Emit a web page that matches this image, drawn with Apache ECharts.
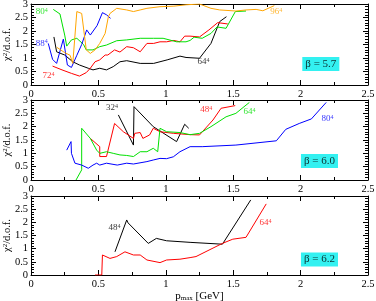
<!DOCTYPE html>
<html><head><meta charset="utf-8">
<script src="https://cdn.jsdelivr.net/npm/echarts@6/dist/echarts.min.js"></script>
<style>html,body{margin:0;padding:0;background:#fff}#c{width:376px;height:301px}</style>
</head><body><div id="c"></div>
<script>
// ---- data (x = p_max [GeV], y = chi^2/d.o.f.) ----
// panel beta = 5.7
const b57_64 = [[0.17,1.78],[0.19,1.23],[0.25,1.11],[0.31,0.86],[0.36,0.74],[0.425,0.62],[0.46,0.56],[0.51,0.62],[0.56,0.56],[0.61,0.68],[0.66,0.86],[0.71,0.9],[0.81,0.8],[0.91,0.8],[1.01,0.93],[1.105,1.07],[1.15,1.02],[1.25,0.99],[1.335,1.54],[1.40,2.35],[1.45,2.53]];
const b57_72 = [[0.16,0.70],[0.23,0.56],[0.30,0.43],[0.36,0.33],[0.41,0.46],[0.44,0.62],[0.475,0.86],[0.51,0.93],[0.55,1.11],[0.57,1.11],[0.62,1.3],[0.66,1.22],[0.71,1.42],[0.76,1.38],[0.81,1.23],[0.86,1.54],[0.91,1.54],[0.957,1.6],[1.006,1.6],[1.06,1.65],[1.105,1.6],[1.14,1.81],[1.18,1.81],[1.25,1.78],[1.32,2.04],[1.385,2.31],[1.46,2.26]];
const b57_80 = [[0.165,2.8],[0.215,2.63],[0.25,1.85],[0.265,1.44],[0.30,1.67],[0.34,1.73],[0.39,1.5],[0.41,1.3],[0.46,1.3],[0.51,1.42],[0.56,1.48],[0.636,1.64],[0.71,1.67],[0.81,1.73],[0.91,1.73],[0.98,1.73],[1.08,1.6],[1.15,1.6],[1.18,1.65],[1.21,1.77],[1.27,1.73],[1.335,1.91],[1.38,2.15],[1.447,2.1],[1.516,2.72],[1.595,2.74]];
const b57_88 = [[0.128,1.54],[0.16,0.95],[0.19,0.8],[0.24,1.7],[0.27,0.74],[0.30,0.65],[0.34,1.1],[0.376,1.5],[0.413,2.04],[0.44,1.85],[0.49,2.2],[0.53,2.68],[0.56,2.6],[0.59,2.47]];
const b57_96 = [[0.19,1.4],[0.25,1.2],[0.29,1.1],[0.31,0.8],[0.34,2.72],[0.376,2.65],[0.41,1.3],[0.44,1.17],[0.475,1.3],[0.51,1.54],[0.55,1.91],[0.574,2.53],[0.586,2.65],[0.636,2.84],[0.71,2.78],[0.76,2.72],[0.81,2.78],[0.86,2.84],[0.957,2.9],[1.06,2.92],[1.15,2.97],[1.25,3.0],[1.335,2.84],[1.40,2.78],[1.52,2.74],[1.595,2.78],[1.67,2.8],[1.72,2.75],[1.805,2.94]];
// panel beta = 6.0
const b60_32 = [[0.648,2.44],[0.76,1.31],[0.764,2.75],[0.907,2.0],[1.08,1.44],[1.14,2.09],[1.17,1.94]];
const b60_48 = [[0.44,1.56],[0.51,1.25],[0.51,0.88],[0.56,0.88],[0.62,2.12],[0.685,1.81],[0.76,1.56],[0.77,1.75],[0.81,1.78],[0.83,1.56],[0.88,1.69],[0.907,1.94],[0.957,1.81],[1.056,1.75],[1.18,1.7],[1.25,1.69],[1.35,2.25],[1.41,2.69],[1.515,2.79]];
const b60_64 = [[0.334,0.0],[0.376,0.38],[0.376,1.94],[0.44,1.56],[0.487,1.12],[0.51,1.0],[0.56,1.06],[0.61,1.0],[0.66,0.94],[0.71,0.92],[0.76,0.88],[0.81,1.06],[0.86,1.06],[0.907,1.19],[0.94,1.06],[0.957,1.94],[1.006,1.81],[1.105,1.78],[1.18,1.7],[1.25,1.75],[1.335,2.0],[1.447,2.37],[1.52,2.5],[1.62,2.91]];
const b60_80 = [[0.265,1.12],[0.297,1.44],[0.30,1.0],[0.326,0.63],[0.376,0.56],[0.425,0.44],[0.46,0.56],[0.487,0.63],[0.51,0.56],[0.56,0.63],[0.64,0.56],[0.71,0.63],[0.76,0.6],[0.86,0.69],[0.907,0.75],[0.957,0.81],[1.006,0.8],[1.056,0.87],[1.105,1.06],[1.18,1.25],[1.27,1.25],[1.52,1.31],[1.82,1.47],[1.89,1.9],[1.99,2.12],[2.08,2.29],[2.19,2.91]];
// panel beta = 6.2
const b62_48 = [[0.623,0.88],[0.71,2.09],[0.72,1.98],[0.87,1.2],[0.93,1.39],[1.006,1.3],[1.18,1.24],[1.42,1.17],[1.63,2.85]];
const b62_64 = [[0.475,0],[0.525,0],[0.53,0.76],[0.586,0.63],[0.636,0.7],[0.697,0.88],[0.76,0.76],[0.81,0.76],[0.86,0.57],[0.957,0.47],[1.006,0.57],[1.105,0.6],[1.18,0.66],[1.224,0.7],[1.42,1.2],[1.497,1.36],[1.595,1.43],[1.745,2.7]];
// tick labels / texts
const xTicks = [0, 0.5, 1, 1.5, 2, 2.5];
const yTicks = [0, 0.5, 1, 1.5, 2, 2.5, 3];
const betas = ['5.7', '6.0', '6.2'];
const betaPos = [[2.15, 0.78], [2.14, 0.71], [2.14, 0.59]];
// lattice-size labels: [panel, text, x, y, colourKey]
const sizeLabels = [
  [0,'80',0.08,2.7,'g'],[0,'88',0.08,1.55,'b'],[0,'72',0.13,0.33,'r'],[0,'96',1.82,2.7,'o'],[0,'64',1.28,0.85,'k'],
  [1,'32',0.60,2.7,'k'],[1,'48',1.30,2.62,'r'],[1,'64',1.62,2.55,'g'],[1,'80',2.2,2.29,'b'],
  [2,'48',0.62,1.78,'k'],[2,'64',1.74,1.97,'r']
];

const C = {k:'#000000', r:'#ff0000', g:'#00e000', b:'#0000ff', o:'#ffa500'};
const lines = [
  [0,b57_64,'k'],[0,b57_72,'r'],[0,b57_80,'g'],[0,b57_88,'b'],[0,b57_96,'o'],
  [1,b60_32,'k'],[1,b60_48,'r'],[1,b60_64,'g'],[1,b60_80,'b'],
  [2,b62_48,'k'],[2,b62_64,'r']
];

const FONT = 'Liberation Serif';
const grids = [
  {left:31, right:8, top:4, height:81, containLabel:false, outerBoundsMode:'none'},
  {left:31, right:8, top:100, height:80, containLabel:false, outerBoundsMode:'none'},
  {left:31, right:8, top:196, height:79, containLabel:false, outerBoundsMode:'none'}
];

function xAxis(gi, pos, labels) {
  return {
    type:'value', gridIndex:gi, position:pos, min:xTicks[0], max:xTicks[xTicks.length-1], interval:0.5,
    axisLine:{show:true, onZero:false, lineStyle:{color:'#000', width:1}},
    axisTick:{show:true, inside:true, length:5, lineStyle:{color:'#000'}},
    minorTick:{show:true, splitNumber:2, length:3, lineStyle:{color:'#000'}},
    splitLine:{show:false},
    axisLabel:{show:labels, fontFamily:FONT, fontSize:10.5, color:'#000', margin:4,
      formatter: v => String(v)},
    name: (labels && gi===2) ? '{p|p}{s|max}{p| [GeV]}' : '',
    nameLocation:'middle', nameGap:15,
    nameTextStyle:{rich:{p:{fontFamily:FONT, fontSize:11, color:'#000'}, s:{fontFamily:FONT, fontSize:7, color:'#000', verticalAlign:'bottom', padding:[4,0,0,0]}}}
  };
}
function yAxis(gi, pos, labels) {
  return {
    type:'value', gridIndex:gi, position:pos, min:yTicks[0], max:yTicks[yTicks.length-1], interval:0.5,
    axisLine:{show:true, onZero:false, lineStyle:{color:'#000', width:1}},
    axisTick:{show:true, inside:true, length:5, lineStyle:{color:'#000'}},
    minorTick:{show:true, splitNumber:5, length:3, lineStyle:{color:'#000'}},
    splitLine:{show:false},
    axisLabel:{show:labels, fontFamily:FONT, fontSize:10.5, color:'#000', margin:3,
      formatter: v => String(v)},
    name: labels ? '{c|χ}{s|2}{c|/d.o.f.}' : '',
    nameLocation:'middle', nameGap:18, nameRotate:90, nameMoveOverlap:false,
    nameTextStyle:{rich:{c:{fontFamily:FONT, fontSize:10.5, color:'#000'}, s:{fontFamily:FONT, fontSize:7, color:'#000', verticalAlign:'top'}}}
  };
}

const xAxes = [], yAxes = [];
for (let i=0;i<3;i++) xAxes.push(xAxis(i,'bottom',true));
for (let i=0;i<3;i++) xAxes.push(xAxis(i,'top',false));
for (let i=0;i<3;i++) yAxes.push(yAxis(i,'left',true));
for (let i=0;i<3;i++) yAxes.push(yAxis(i,'right',false));

const series = [];
lines.forEach(([p, d, c]) => {
  series.push({type:'line', xAxisIndex:p, yAxisIndex:p, data:d, showSymbol:false, symbol:'none',
    lineStyle:{color:C[c], width:1}, itemStyle:{color:C[c]}, clip:true, z:2, silent:true});
});
for (let p=0;p<3;p++) {
  series.push({type:'scatter', xAxisIndex:p, yAxisIndex:p, symbolSize:0, silent:true, z:5,
    data: sizeLabels.filter(l=>l[0]===p).map(l=>({value:[l[2],l[3]], name:l[1],
      label:{show:true, position:'inside', formatter:'{n|'+l[1]+'}{s|4}',
        rich:{n:{fontFamily:FONT, fontSize:9, color:C[l[4]]}, s:{fontFamily:FONT, fontSize:6, color:C[l[4]], verticalAlign:'top'}}}}))
  });
  series.push({type:'scatter', xAxisIndex:p, yAxisIndex:p, symbolSize:0, silent:true, z:6,
    data:[{value:betaPos[p], label:{show:true, position:'inside', formatter:'β = '+betas[p],
      fontFamily:FONT, fontSize:11, color:'#000', backgroundColor:'#00eeee', padding:[2,3,1,3]}}]
  });
}

const chart = echarts.init(document.getElementById('c'), null, {renderer:'canvas'});
chart.setOption({animation:false, backgroundColor:'#fff', grid:grids, xAxis:xAxes, yAxis:yAxes, series});
</script></body></html>
